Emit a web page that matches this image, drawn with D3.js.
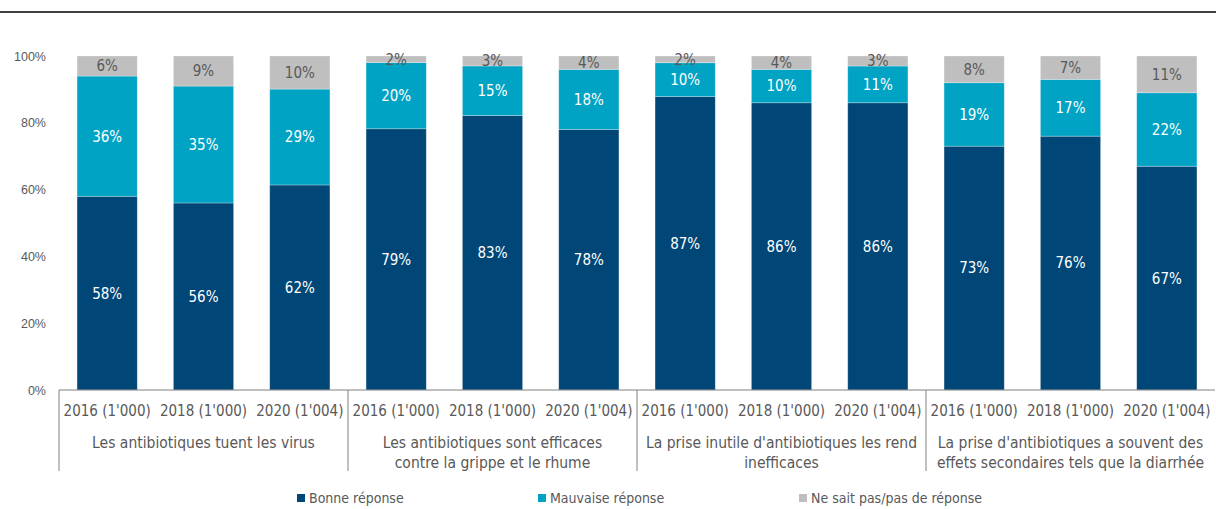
<!DOCTYPE html>
<html>
<head>
<meta charset="utf-8">
<script src="https://cdn.jsdelivr.net/npm/d3@7"></script>
<style>
  body { margin: 0; background: #fff; }
  text { font-family: "DejaVu Sans Condensed", "DejaVu Sans", sans-serif; }
</style>
</head>
<body>
<div id="chart"></div>
<script>
// data
var groups = [
  ["Les antibiotiques tuent les virus"],
  ["Les antibiotiques sont efficaces", "contre la grippe et le rhume"],
  ["La prise inutile d'antibiotiques les rend", "inefficaces"],
  ["La prise d'antibiotiques a souvent des", "effets secondaires tels que la diarrhée"]
];
var years = ["2016 (1'000)", "2018 (1'000)", "2020 (1'004)"];
var bonne    = [58, 56, 62, 79, 83, 78, 87, 86, 86, 73, 76, 67];
var mauvaise = [36, 35, 29, 20, 15, 18, 10, 10, 11, 19, 17, 22];
var nsp      = [6, 9, 10, 2, 3, 4, 2, 4, 3, 8, 7, 11];
var seriesNames = ["Bonne réponse", "Mauvaise réponse", "Ne sait pas/pas de réponse"];
var colors = ["#004677", "#00a3c3", "#bfbfbf"];
var yTicks = [0, 0.2, 0.4, 0.6, 0.8, 1];

var svgWidth = 1216, svgHeight = 509;
var margin = {top: 56, right: 1, bottom: 119, left: 59};
var width = svgWidth - margin.left - margin.right;
var height = svgHeight - margin.top - margin.bottom;

var svg = d3.select("#chart").append("svg")
    .attr("width", svgWidth)
    .attr("height", svgHeight);

// top rule
svg.append("line")
    .attr("x1", 0).attr("x2", svgWidth)
    .attr("y1", 12).attr("y2", 12)
    .attr("stroke", "#000").attr("stroke-width", 1.6);

var g = svg.append("g").attr("transform", `translate(${margin.left}, ${margin.top})`);

// one row per bar
var rows = [];
groups.forEach(function(grp, gi) {
  years.forEach(function(yr, yi) {
    var i = gi * 3 + yi;
    rows.push({key: gi + "-" + yi, group: gi, year: yr, b: bonne[i], m: mauvaise[i], n: nsp[i]});
  });
});

var x = d3.scaleBand().domain(rows.map(d => d.key)).range([0, width]).paddingInner(0.375).paddingOuter(0.1875);
var y = d3.scaleLinear().domain([0, 1]).range([height, 0]);

var stack = d3.stack().keys(["b", "m", "n"]).offset(d3.stackOffsetExpand);
var layers = stack(rows);

var layerG = g.selectAll(".layer").data(layers).enter().append("g")
    .attr("fill", (d, i) => colors[i]);

layerG.selectAll("rect").data(d => d).enter().append("rect")
    .attr("x", d => x(d.data.key))
    .attr("width", x.bandwidth())
    .attr("y", d => y(d[1]))
    .attr("height", d => y(d[0]) - y(d[1]))
    .attr("stroke", "#ffffff").attr("stroke-opacity", 0.35).attr("stroke-width", 0.8);

// value labels
layers.forEach(function(layer, li) {
  g.selectAll(".lab" + li).data(layer).enter().append("text")
      .attr("x", d => x(d.data.key) + x.bandwidth() / 2)
      .attr("y", d => y((d[0] + d[1]) / 2))
      .attr("dy", "0.36em")
      .attr("text-anchor", "middle")
      .attr("font-size", "15px")
      .attr("fill", li == 2 ? "#595959" : "#ffffff")
      .text(d => d.data[layer.key] + "%");
});

// y axis (labels only)
var yAxis = g.append("g")
    .call(d3.axisLeft(y).tickValues(yTicks).tickFormat(d3.format(".0%")).tickSize(0).tickPadding(13));
yAxis.select(".domain").remove();
yAxis.selectAll("text")
    .style("font-family", "'Liberation Sans', Arial, sans-serif")
    .attr("font-size", "12.5px").attr("fill", "#595959");

// baseline
g.append("line")
    .attr("x1", 0).attr("x2", width)
    .attr("y1", height).attr("y2", height)
    .attr("stroke", "#808080").attr("stroke-width", 1);

// year labels
g.selectAll(".yr").data(rows).enter().append("text")
    .attr("x", d => x(d.key) + x.bandwidth() / 2)
    .attr("y", height + 21)
    .attr("dy", "0.36em")
    .attr("text-anchor", "middle")
    .attr("font-size", "15px")
    .attr("fill", "#595959")
    .text(d => d.year);

// group separators + names
var step = x.step();
groups.forEach(function(lines, gi) {
  var gx = gi * 3 * step;
  g.append("line")
      .attr("x1", gx).attr("x2", gx)
      .attr("y1", height).attr("y2", height + 81)
      .attr("stroke", "#808080").attr("stroke-width", 1);
  var t = g.append("text")
      .attr("text-anchor", "middle")
      .attr("font-size", "15.5px")
      .attr("fill", "#595959");
  lines.forEach(function(ln, li) {
    t.append("tspan")
        .attr("x", gx + 1.5 * step)
        .attr("y", height + 52 + li * 20)
        .attr("dy", "0.36em")
        .text(ln);
  });
});

// legend
var legX = [297, 538, 799];
seriesNames.forEach(function(name, i) {
  svg.append("rect")
      .attr("x", legX[i]).attr("y", 494)
      .attr("width", 8).attr("height", 8)
      .attr("fill", colors[i]);
  svg.append("text")
      .attr("x", legX[i] + 12).attr("y", 498)
      .attr("dy", "0.36em")
      .attr("font-size", "14px")
      .attr("fill", "#595959")
      .text(name);
});
</script>
</body>
</html>
